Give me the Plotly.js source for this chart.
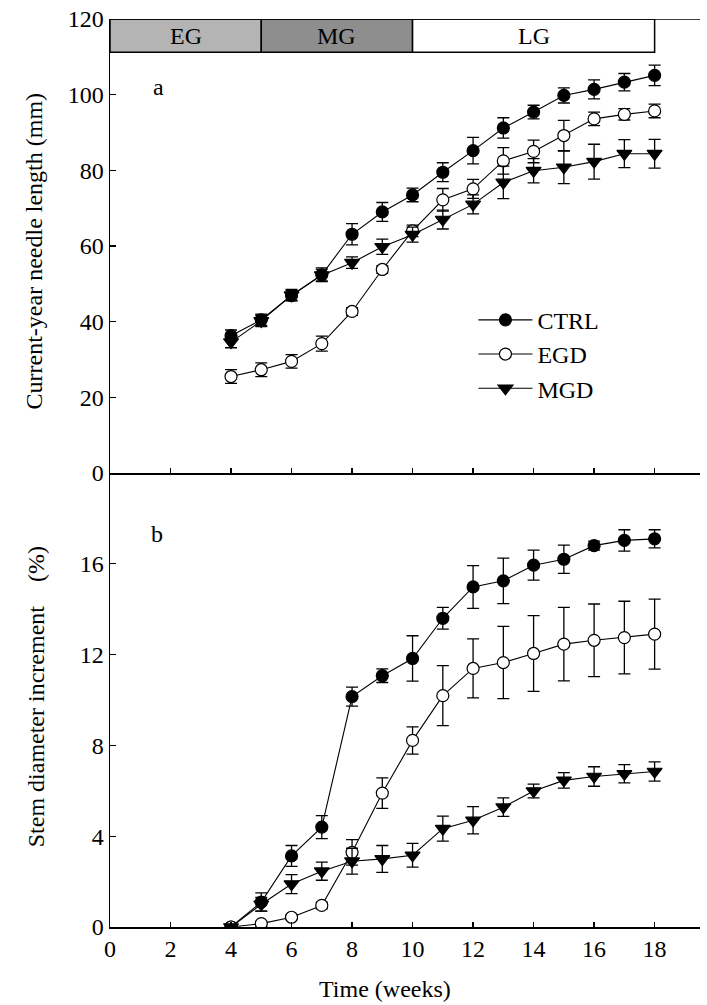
<!DOCTYPE html>
<html>
<head>
<meta charset="utf-8">
<script src="https://cdn.plot.ly/plotly-3.0.1.min.js"></script>
<style>html,body{margin:0;padding:0;background:#fff;}#chart{width:707px;height:1005px;}</style>
</head>
<body>
<div id="chart"></div>
<script>
// ---- data ----
const weeks = [4, 5, 6, 7, 8, 9, 10, 11, 12, 13, 14, 15, 16, 17, 18];
const seriesNames = ["CTRL", "EGD", "MGD"];

const needleCTRL    = [36.3, 40.5, 46.9, 52.4, 63.1, 69.0, 73.5, 79.5, 85.2, 91.2, 95.4, 99.8, 101.4, 103.3, 105.1];
const needleCTRLErr = [1.5, 1.5, 1.3, 1.8, 2.8, 2.5, 1.8, 2.5, 3.5, 2.7, 1.8, 2.0, 2.5, 2.3, 2.7];
const needleEGD     = [25.5, 27.3, 29.5, 34.2, 42.7, 53.8, 64.0, 72.2, 75.1, 82.5, 85.0, 89.2, 93.6, 94.8, 95.7];
const needleEGDErr  = [1.8, 1.8, 1.8, 2.0, 1.0, 1.0, 1.5, 3.0, 2.5, 3.5, 3.0, 4.0, 1.8, 1.5, 1.8];
const needleMGD     = [34.6, 40.2, 47.0, 52.3, 55.6, 59.8, 63.0, 67.0, 71.0, 76.8, 79.9, 80.8, 82.3, 84.4, 84.4];
const needleMGDErr  = [1.5, 1.5, 1.5, 1.5, 1.5, 2.0, 2.0, 2.5, 2.5, 4.3, 3.2, 4.3, 4.6, 3.7, 3.8];

const stemCTRL    = [0, 1.1, 3.13, 4.4, 10.15, 11.07, 11.83, 13.6, 14.98, 15.25, 15.94, 16.2, 16.8, 17.03, 17.1];
const stemCTRLErr = [0, 0.4, 0.46, 0.51, 0.42, 0.3, 1.0, 0.48, 0.94, 1.0, 0.66, 0.62, 0.2, 0.47, 0.4];
const stemEGD     = [0, 0.15, 0.43, 0.95, 3.29, 5.9, 8.22, 10.19, 11.39, 11.65, 12.05, 12.46, 12.63, 12.75, 12.9];
const stemEGDErr  = [0, 0.1, 0.1, 0.15, 0.56, 0.67, 0.6, 1.32, 1.3, 1.59, 1.67, 1.62, 1.6, 1.6, 1.54];
const stemMGD     = [0, 1.0, 1.89, 2.46, 2.9, 3.0, 3.16, 4.33, 4.7, 5.28, 5.99, 6.46, 6.63, 6.75, 6.85];
const stemMGDErr  = [0, 0.3, 0.42, 0.4, 0.57, 0.59, 0.52, 0.55, 0.6, 0.41, 0.3, 0.34, 0.43, 0.4, 0.42];

const phaseNames = ["EG", "MG", "LG"];
const phaseStart = [0, 5, 10];
const phaseEnd   = [5, 10, 18];
const phaseLow = 111.2, phaseHigh = 120;

const xTicks = [0, 2, 4, 6, 8, 10, 12, 14, 16, 18];
const needleTicks = [0, 20, 40, 60, 80, 100, 120];
const stemTicks = [0, 4, 8, 12, 16];

// ---- styles ----
const FONT = "Liberation Serif, Times New Roman, serif";
const phaseColors = ["#b4b4b4", "#8e8e8e", "#ffffff"];
const symbols = { CTRL: "circle", EGD: "circle", MGD: "triangle-down" };
const fills   = { CTRL: "#000000", EGD: "#ffffff", MGD: "#000000" };

function trace(name, y, err, xa, ya, showlegend) {
  return {
    type: "scatter", mode: "lines+markers", name: name,
    x: weeks, y: y, xaxis: xa, yaxis: ya,
    legendgroup: name, showlegend: showlegend,
    line: { color: "#000", width: 1.1 },
    marker: { symbol: symbols[name], size: name === "MGD" ? 13 : 12, color: fills[name],
              line: { color: "#000", width: 1.2 } },
    error_y: { type: "data", array: err, visible: true, color: "#000", thickness: 1.3, width: 6 }
  };
}

const needle = { CTRL: [needleCTRL, needleCTRLErr], EGD: [needleEGD, needleEGDErr], MGD: [needleMGD, needleMGDErr] };
const stem   = { CTRL: [stemCTRL, stemCTRLErr],     EGD: [stemEGD, stemEGDErr],     MGD: [stemMGD, stemMGDErr] };

const data = [];
seriesNames.forEach(n => data.push(trace(n, needle[n][0], needle[n][1], "x", "y", true)));
seriesNames.forEach(n => data.push(trace(n, stem[n][0], stem[n][1], "x2", "y2", false)));

const shapes = phaseNames.map((p, i) => ({
  type: "rect", xref: "x", yref: "y", x0: phaseStart[i], x1: phaseEnd[i], y0: phaseLow, y1: phaseHigh,
  fillcolor: phaseColors[i], line: { color: "#000", width: 1.5 }, layer: "above"
}));
shapes.push({ type: "line", xref: "x", yref: "y", x0: 0, x1: 19.5, y0: 120, y1: 120,
  line: { color: "#000", width: 1.5 } });

const annotations = phaseNames.map((p, i) => ({
  text: p, xref: "x", yref: "y", x: (phaseStart[i] + phaseEnd[i]) / 2, y: (phaseLow + phaseHigh) / 2,
  showarrow: false, font: { family: FONT, size: 24, color: "#000" }
}));
annotations.push(
  { text: "a", xref: "x", yref: "y", x: 1.6, y: 102, showarrow: false, font: { family: FONT, size: 24, color: "#000" } },
  { text: "b", xref: "x2", yref: "y2", x: 1.55, y: 17.3, showarrow: false, font: { family: FONT, size: 24, color: "#000" } },
  { text: "Current-year needle length (mm)", xref: "paper", yref: "paper", x: 0, y: 0.744, xshift: -76,
    xanchor: "center", yanchor: "middle",
    textangle: -90, showarrow: false, font: { family: FONT, size: 24, color: "#000" } },
  { text: "Stem diameter increment\u3000(%)", xref: "paper", yref: "paper", x: 0, y: 0.253, xshift: -74,
    xanchor: "center", yanchor: "middle",
    textangle: -90, showarrow: false, font: { family: FONT, size: 24, color: "#000" } },
  { text: "Time (weeks)", xref: "paper", yref: "paper", x: 0.466, y: 0, yshift: -62,
    xanchor: "center", yanchor: "middle",
    showarrow: false, font: { family: FONT, size: 24, color: "#000" } }
);

const axisCommon = {
  showgrid: false, zeroline: false, showline: true, linecolor: "#000", linewidth: 1.5,
  ticks: "inside", ticklen: 5, tickcolor: "#000", tickwidth: 1.2,
  tickfont: { family: FONT, size: 24, color: "#000" }
};

const layout = {
  width: 707, height: 1005,
  margin: { l: 110, r: 7, t: 19, b: 78 },
  paper_bgcolor: "#fff", plot_bgcolor: "#fff",
  font: { family: FONT, color: "#000" },
  showlegend: true,
  legend: { x: 0.616, y: 0.693, xanchor: "left", yanchor: "top", bgcolor: "rgba(0,0,0,0)",
            itemwidth: 54,
            font: { family: FONT, size: 24, color: "#000" }, tracegroupgap: 0, traceorder: "normal" },
  xaxis: Object.assign({}, axisCommon, { domain: [0, 1], range: [0, 19.5], anchor: "y",
            tickvals: xTicks, showticklabels: false }),
  yaxis: Object.assign({}, axisCommon, { domain: [0.5, 1], range: [0, 120], anchor: "x",
            tickvals: needleTicks, ticklen: 6 }),
  xaxis2: Object.assign({}, axisCommon, { domain: [0, 1], range: [0, 19.5], anchor: "y2",
            tickvals: xTicks }),
  yaxis2: Object.assign({}, axisCommon, { domain: [0, 0.5], range: [0, 20], anchor: "x2",
            tickvals: stemTicks, ticklen: 6 }),
  shapes: shapes,
  annotations: annotations
};

Plotly.newPlot("chart", data, layout, { displayModeBar: false, staticPlot: true });
</script>
</body>
</html>
